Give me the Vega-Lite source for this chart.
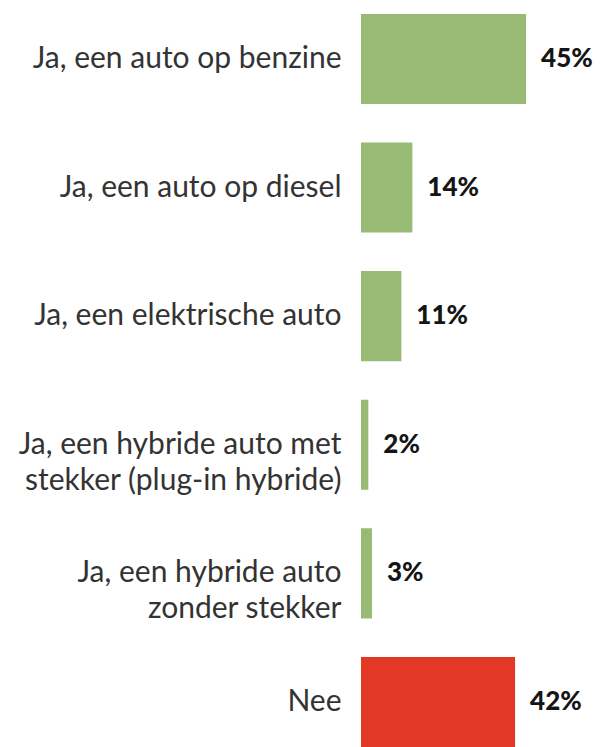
{
  "$schema": "https://vega.github.io/schema/vega-lite/v6.json",
  "autosize": "none",
  "width": 241,
  "height": 747,
  "padding": {"left": 361, "top": 0, "right": 0, "bottom": 0},
  "background": "white",
  "config": {"view": {"stroke": null}},
  "data": {
    "values": [
      {"label": "Ja, een auto op benzine", "group": "ja", "share": 0.45},
      {"label": "Ja, een auto op diesel", "group": "ja", "share": 0.14},
      {"label": "Ja, een elektrische auto", "group": "ja", "share": 0.11},
      {"label": "Ja, een hybride auto met|stekker (plug-in hybride)", "group": "ja", "share": 0.02},
      {"label": "Ja, een hybride auto|zonder stekker", "group": "ja", "share": 0.03},
      {"label": "Nee", "group": "nee", "share": 0.42}
    ]
  },
  "encoding": {
    "y": {
      "field": "label",
      "type": "nominal",
      "sort": null,
      "scale": {"paddingInner": 0.3, "paddingOuter": 0.054, "align": 1},
      "axis": {
        "title": null,
        "domain": false,
        "ticks": false,
        "grid": false,
        "labelPadding": 20,
        "labelFont": "Lato",
        "labelFontSize": 30,
        "labelColor": "#333333",
        "labelLimit": 400,
        "labelLineHeight": 36,
        "labelExpr": "split(datum.label, '|')"
      }
    },
    "x": {
      "field": "share",
      "type": "quantitative",
      "scale": {"domain": [0, 0.657], "nice": false, "zero": true},
      "axis": null
    }
  },
  "layer": [
    {
      "mark": {"type": "bar"},
      "encoding": {
        "color": {
          "field": "group",
          "type": "nominal",
          "scale": {"domain": ["ja", "nee"], "range": ["#97bb75", "#e23826"]},
          "legend": null
        }
      }
    },
    {
      "mark": {"type": "text", "align": "left", "baseline": "middle", "dx": 15, "font": "Lato", "fontSize": 26, "fontWeight": 900, "color": "#151515"},
      "encoding": {
        "text": {"field": "share", "type": "quantitative", "format": ".0%"}
      }
    }
  ]
}
